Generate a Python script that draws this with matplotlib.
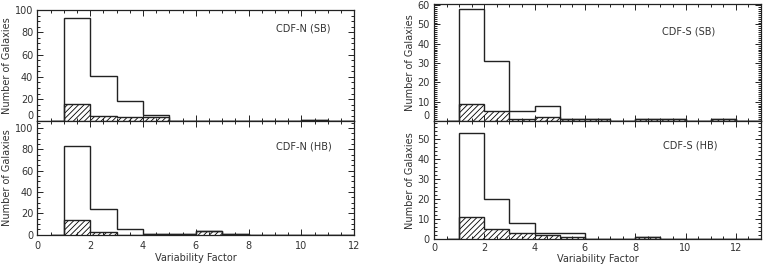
import numpy as np
import matplotlib
matplotlib.use("Agg")
import matplotlib.pyplot as plt
from matplotlib.ticker import MultipleLocator

plt.rcParams['font.family'] = 'DejaVu Sans'
plt.rcParams['font.size'] = 7
plt.rcParams['hatch.linewidth'] = 0.6

# variability factor bins: 1-2, 2-3, ... 12-13
bin_edges = np.arange(1, 14)

cdfn_sb_all = [93, 41, 18, 6, 0, 0, 0, 0, 0, 1, 0, 0]
cdfn_sb_gal = [16, 5, 4, 4, 0, 0, 0, 0, 0, 1, 0, 0]
cdfn_hb_all = [83, 24, 5, 1, 1, 3, 1, 0, 0, 0, 0, 0]
cdfn_hb_gal = [14, 2, 0, 1, 1, 3, 1, 0, 0, 0, 0, 0]
cdfs_sb_all = [58, 31, 5, 8, 1, 1, 0, 1, 1, 0, 1, 0]
cdfs_sb_gal = [9, 5, 1, 2, 1, 1, 0, 1, 1, 0, 1, 0]
cdfs_hb_all = [53, 20, 8, 3, 3, 0, 0, 1, 0, 0, 0, 0]
cdfs_hb_gal = [11, 5, 3, 2, 1, 0, 0, 1, 0, 0, 0, 0]

panel_labels = ['CDF-N (SB)', 'CDF-N (HB)', 'CDF-S (SB)', 'CDF-S (HB)']

fig = plt.figure(figsize=(7.65, 2.67), dpi=100)

# axes boxes in figure fraction [left, bottom, width, height]
boxes = [
    [0.0488, 0.5450, 0.4143, 0.4175],
    [0.0488, 0.1213, 0.4143, 0.4237],
    [0.5673, 0.5468, 0.4275, 0.4382],
    [0.5673, 0.1037, 0.4275, 0.4431],
]
xlims = [(0, 12), (0, 12), (0, 13), (0, 13)]
ylims = [(0, 100), (0, 106), (0, 60.6), (0, 59.2)]
ymajor = [20, 20, 10, 10]
yminor = [5, 5, 1, 2]
xpads = [3, 4.5, 3, 3]
text_pos = [(0.754, 0.83), (0.754, 0.78), (0.696, 0.763), (0.699, 0.797)]
data = [(cdfn_sb_all, cdfn_sb_gal), (cdfn_hb_all, cdfn_hb_gal),
        (cdfs_sb_all, cdfs_sb_gal), (cdfs_hb_all, cdfs_hb_gal)]

edges = np.concatenate([[0.5], bin_edges])

axes = []
for i in range(4):
    ax = fig.add_axes(boxes[i])
    axes.append(ax)
    allv, galv = data[i]
    allv = np.concatenate([[0], allv])
    galv = np.concatenate([[0], galv])

    ax.stairs(galv, edges, fill=True, hatch='//////', facecolor='white',
              edgecolor='black', linewidth=0)
    ax.stairs(galv, edges, color='#222222', linewidth=1.0)
    ax.stairs(allv, edges, color='#222222', linewidth=1.0)

    ax.set_xlim(*xlims[i])
    ax.set_ylim(*ylims[i])
    ax.xaxis.set_major_locator(MultipleLocator(2))
    ax.xaxis.set_minor_locator(MultipleLocator(0.5))
    ax.yaxis.set_major_locator(MultipleLocator(ymajor[i]))
    ax.yaxis.set_minor_locator(MultipleLocator(yminor[i]))
    ax.tick_params(which='both', direction='in', top=True, right=True,
                   width=0.7, colors='#222222', labelcolor='#333333')
    ax.tick_params(which='major', length=4, pad=3)
    ax.tick_params(which='minor', length=2)
    ax.tick_params(axis='x', which='major', pad=xpads[i])
    for s in ax.spines.values():
        s.set_linewidth(0.9)
        s.set_color('#222222')

    if i in (0, 2):
        ax.tick_params(labelbottom=False)
    else:
        ax.set_xlabel('Variability Factor', color='#333333',
                      labelpad=1.5 if i == 1 else 0.5)
    ax.set_ylabel('Number of Galaxies', color='#333333', labelpad=2)

    ax.text(text_pos[i][0], text_pos[i][1], panel_labels[i],
            transform=ax.transAxes, ha='left', va='center', color='#333333')

# lift the "0" label of the upper panels so it clears the lower panel's top label
fig.canvas.draw()
for ax in (axes[0], axes[2]):
    for lab in ax.get_yticklabels():
        if lab.get_text() == '0':
            lab.set_va('bottom')

fig.savefig('out.png', dpi=100)
